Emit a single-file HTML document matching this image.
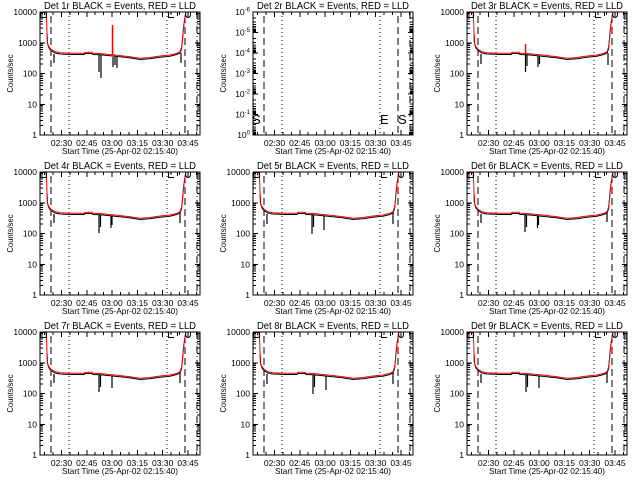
<!DOCTYPE html>
<html><head><meta charset="utf-8"><style>
html,body{margin:0;padding:0;background:#fff;}
svg{display:block;}
text{font-family:"Liberation Sans",sans-serif;fill:#000;}
.t{font-size:10px;text-anchor:middle;}
.yl{font-size:8.5px;text-anchor:end;}
.xl{font-size:8.5px;text-anchor:middle;}
.st{font-size:8.5px;text-anchor:middle;}
.cs{font-size:8.5px;text-anchor:middle;}
.ln{fill:none;stroke:#000;stroke-width:1;shape-rendering:crispEdges;}
.dip{fill:none;stroke:#000;stroke-width:1.2;}
.mk{fill:none;stroke:#000;stroke-width:1;}
</style></head><body>
<svg width="640" height="480" viewBox="0 0 640 480" xmlns="http://www.w3.org/2000/svg">
<rect width="640" height="480" fill="#fff"/>
<defs>
<clipPath id="cp"><rect x="0" y="0" width="160" height="123"/></clipPath>
<path id="ytL" class="ln" d="M0,30.75h5M0,61.5h5M0,92.25h5M0,113.74h3M0,108.33h3M0,104.49h3M0,101.51h3M0,99.07h3M0,97.02h3M0,95.23h3M0,93.66h3M0,82.99h3M0,77.58h3M0,73.74h3M0,70.76h3M0,68.32h3M0,66.27h3M0,64.48h3M0,62.91h3M0,52.24h3M0,46.83h3M0,42.99h3M0,40.01h3M0,37.57h3M0,35.52h3M0,33.73h3M0,32.16h3M0,21.49h3M0,16.08h3M0,12.24h3M0,9.26h3M0,6.82h3M0,4.77h3M0,2.98h3M0,1.41h3"/>
<path id="ytL6" class="ln" d="M0,20.5h5M0,41h5M0,61.5h5M0,82h5M0,102.5h5M0,6.17h3M0,9.78h3M0,12.34h3M0,14.33h3M0,15.95h3M0,17.32h3M0,18.51h3M0,19.56h3M0,26.67h3M0,30.28h3M0,32.84h3M0,34.83h3M0,36.45h3M0,37.82h3M0,39.01h3M0,40.06h3M0,47.17h3M0,50.78h3M0,53.34h3M0,55.33h3M0,56.95h3M0,58.32h3M0,59.51h3M0,60.56h3M0,67.67h3M0,71.28h3M0,73.84h3M0,75.83h3M0,77.45h3M0,78.82h3M0,80.01h3M0,81.06h3M0,88.17h3M0,91.78h3M0,94.34h3M0,96.33h3M0,97.95h3M0,99.32h3M0,100.51h3M0,101.56h3M0,108.67h3M0,112.28h3M0,114.84h3M0,116.83h3M0,118.45h3M0,119.82h3M0,121.01h3M0,122.06h3"/>
<path id="xtB" class="ln" d="M21.5,123v-5M46.8,123v-5M72.1,123v-5M97.4,123v-5M122.7,123v-5M148,123v-5M4.63,123v-3M13.07,123v-3M29.93,123v-3M38.37,123v-3M55.23,123v-3M63.67,123v-3M80.53,123v-3M88.97,123v-3M105.83,123v-3M114.27,123v-3M131.13,123v-3M139.57,123v-3M156.43,123v-3"/>
<g id="frame4">
<rect class="ln" x="0" y="0" width="160" height="123"/>
<use href="#ytL"/><use href="#ytL" transform="translate(160,0) scale(-1,1)"/>
<use href="#xtB"/><use href="#xtB" transform="translate(0,123) scale(1,-1)"/>
</g>
<g id="frame6">
<rect class="ln" x="0" y="0" width="160" height="123"/>
<use href="#ytL6"/><use href="#ytL6" transform="translate(160,0) scale(-1,1)"/>
<use href="#xtB"/><use href="#xtB" transform="translate(0,123) scale(1,-1)"/>
</g>
<g id="vl" class="ln">
<path d="M11,4V123" stroke-dasharray="7,4"/>
<path d="M29,0V123" stroke-dasharray="1,3"/>
<path d="M127,0V123" stroke-dasharray="1,3"/>
<path d="M145,4V123" stroke-dasharray="7,4"/>
<path d="M157,0V123" stroke-dasharray="7,3,1,3"/>
</g>
<polyline id="red" fill="none" stroke="#f00" stroke-width="1" points="5,-10 6,0 6.7,11 7.3,31 9,34.7 11,37.3 15,39.7 20,40.7 33,41.3 44,41.3 45,40.3 52,40.3 53,41.3 60,41.5 75,43 90,44.7 100,46.3 110,45.5 120,44 130,43 136.7,41.3 140,39.7 141.7,34.7 142.7,24.7 144,11.3 145.7,1.3 147,-10"/>
<polyline id="blk" fill="none" stroke="#000" stroke-width="1" points="7,20 7.6,32 9,36 11,38.5 15,41 20,42 33,42.5 44,42.5 45,41.5 52,41.5 53,42.5 60,42.7 75,44.2 90,45.9 100,47.5 110,46.7 120,45.2 130,44.2 136.7,42.5 140,41 141.5,37 142.5,27 143.8,13 145.5,2 147,-10"/>
<g id="mk4" class="mk">
<rect x="0.5" y="0.5" width="6" height="5"/>
<path d="M128.5,0.5V5.5H134M137.5,0.5V4"/>
<path d="M145.5,1.5Q145.5,5.5 148,5.5Q150.5,5.5 150.5,2V0"/>
</g>
</defs>

<!-- Panel 1 -->
<g transform="translate(40,12)">
<use href="#vl"/>
<g clip-path="url(#cp)"><use href="#blk"/><path class="dip" d="M14,42V51M59,43V60M61,43V66M73,45V55M75,45V53M77,45V56M141,41V51"/><use href="#red"/><path d="M72.5,43V13" stroke="#f00" stroke-width="1.5"/></g>
<use href="#frame4"/><use href="#mk4"/>
<text class="t" x="80" y="-3" textLength="152" lengthAdjust="spacingAndGlyphs">Det 1r BLACK = Events, RED = LLD</text>
<text class="yl" x="-3" y="3">10000</text><text class="yl" x="-3" y="33.75">1000</text><text class="yl" x="-3" y="64.5">100</text><text class="yl" x="-3" y="95.25">10</text><text class="yl" x="-3" y="126">1</text>
<text class="xl" x="21.5" y="134">02:30</text><text class="xl" x="46.8" y="134">02:45</text><text class="xl" x="72.1" y="134">03:00</text><text class="xl" x="97.4" y="134">03:15</text><text class="xl" x="122.7" y="134">03:30</text><text class="xl" x="148" y="134">03:45</text>
<text class="st" x="80" y="142" textLength="116" lengthAdjust="spacingAndGlyphs">Start Time (25-Apr-02 02:15:40)</text>
<text class="cs" transform="translate(-27,61.5) rotate(-90)" textLength="38" lengthAdjust="spacingAndGlyphs">Counts/sec</text>
</g>

<!-- Panel 2 -->
<g transform="translate(253,12)">
<use href="#vl"/>
<use href="#frame6"/>
<text x="-1" y="112" style="font-size:13px">S</text>
<text x="127" y="112" style="font-size:13px">E</text>
<text x="145" y="112" style="font-size:13px">S</text>
<text class="t" x="80" y="-3" textLength="152" lengthAdjust="spacingAndGlyphs">Det 2r BLACK = Events, RED = LLD</text>
<text class="yl" x="-3" y="3">10<tspan dy="-3.5" font-size="6">-6</tspan></text>
<text class="yl" x="-3" y="23.5">10<tspan dy="-3.5" font-size="6">-5</tspan></text>
<text class="yl" x="-3" y="44">10<tspan dy="-3.5" font-size="6">-4</tspan></text>
<text class="yl" x="-3" y="64.5">10<tspan dy="-3.5" font-size="6">-3</tspan></text>
<text class="yl" x="-3" y="85">10<tspan dy="-3.5" font-size="6">-2</tspan></text>
<text class="yl" x="-3" y="105.5">10<tspan dy="-3.5" font-size="6">-1</tspan></text>
<text class="yl" x="-3" y="126">10<tspan dy="-3.5" font-size="6">0</tspan></text>
<text class="xl" x="21.5" y="134">02:30</text><text class="xl" x="46.8" y="134">02:45</text><text class="xl" x="72.1" y="134">03:00</text><text class="xl" x="97.4" y="134">03:15</text><text class="xl" x="122.7" y="134">03:30</text><text class="xl" x="148" y="134">03:45</text>
<text class="st" x="80" y="142" textLength="116" lengthAdjust="spacingAndGlyphs">Start Time (25-Apr-02 02:15:40)</text>
<text class="cs" transform="translate(-27,61.5) rotate(-90)" textLength="38" lengthAdjust="spacingAndGlyphs">Counts/sec</text>
</g>

<!-- Panel 3 -->
<g transform="translate(467,12)">
<use href="#vl"/>
<g clip-path="url(#cp)"><use href="#blk"/><path class="dip" d="M14,42V52M58.5,43V60M60,43V54M71,44V55M72.5,44V52M141,41V53"/><use href="#red"/><path d="M58.5,42V32" stroke="#f00" stroke-width="1.5"/></g>
<use href="#frame4"/><use href="#mk4"/>
<text class="t" x="80" y="-3" textLength="152" lengthAdjust="spacingAndGlyphs">Det 3r BLACK = Events, RED = LLD</text>
<text class="yl" x="-3" y="3">10000</text><text class="yl" x="-3" y="33.75">1000</text><text class="yl" x="-3" y="64.5">100</text><text class="yl" x="-3" y="95.25">10</text><text class="yl" x="-3" y="126">1</text>
<text class="xl" x="21.5" y="134">02:30</text><text class="xl" x="46.8" y="134">02:45</text><text class="xl" x="72.1" y="134">03:00</text><text class="xl" x="97.4" y="134">03:15</text><text class="xl" x="122.7" y="134">03:30</text><text class="xl" x="148" y="134">03:45</text>
<text class="st" x="80" y="142" textLength="116" lengthAdjust="spacingAndGlyphs">Start Time (25-Apr-02 02:15:40)</text>
<text class="cs" transform="translate(-27,61.5) rotate(-90)" textLength="38" lengthAdjust="spacingAndGlyphs">Counts/sec</text>
</g>

<!-- Panel 4 -->
<g transform="translate(40,172)">
<use href="#vl"/>
<g clip-path="url(#cp)"><use href="#blk"/><path class="dip" d="M14,42V51M59,43V61M60.5,43V55M71,44V56M72,44V53M140,41V51"/><use href="#red"/></g>
<use href="#frame4"/><use href="#mk4"/>
<text class="t" x="80" y="-3" textLength="152" lengthAdjust="spacingAndGlyphs">Det 4r BLACK = Events, RED = LLD</text>
<text class="yl" x="-3" y="3">10000</text><text class="yl" x="-3" y="33.75">1000</text><text class="yl" x="-3" y="64.5">100</text><text class="yl" x="-3" y="95.25">10</text><text class="yl" x="-3" y="126">1</text>
<text class="xl" x="21.5" y="134">02:30</text><text class="xl" x="46.8" y="134">02:45</text><text class="xl" x="72.1" y="134">03:00</text><text class="xl" x="97.4" y="134">03:15</text><text class="xl" x="122.7" y="134">03:30</text><text class="xl" x="148" y="134">03:45</text>
<text class="st" x="80" y="142" textLength="116" lengthAdjust="spacingAndGlyphs">Start Time (25-Apr-02 02:15:40)</text>
<text class="cs" transform="translate(-27,61.5) rotate(-90)" textLength="38" lengthAdjust="spacingAndGlyphs">Counts/sec</text>
</g>

<!-- Panel 5 -->
<g transform="translate(253,172)">
<use href="#vl"/>
<g clip-path="url(#cp)"><use href="#blk"/><path class="dip" d="M14,42V52M59,43V62M60.5,43V55M71,44V58M140,41V52"/><use href="#red"/></g>
<use href="#frame4"/><use href="#mk4"/>
<text class="t" x="80" y="-3" textLength="152" lengthAdjust="spacingAndGlyphs">Det 5r BLACK = Events, RED = LLD</text>
<text class="yl" x="-3" y="3">10000</text><text class="yl" x="-3" y="33.75">1000</text><text class="yl" x="-3" y="64.5">100</text><text class="yl" x="-3" y="95.25">10</text><text class="yl" x="-3" y="126">1</text>
<text class="xl" x="21.5" y="134">02:30</text><text class="xl" x="46.8" y="134">02:45</text><text class="xl" x="72.1" y="134">03:00</text><text class="xl" x="97.4" y="134">03:15</text><text class="xl" x="122.7" y="134">03:30</text><text class="xl" x="148" y="134">03:45</text>
<text class="st" x="80" y="142" textLength="116" lengthAdjust="spacingAndGlyphs">Start Time (25-Apr-02 02:15:40)</text>
<text class="cs" transform="translate(-27,61.5) rotate(-90)" textLength="38" lengthAdjust="spacingAndGlyphs">Counts/sec</text>
</g>

<!-- Panel 6 -->
<g transform="translate(467,172)">
<use href="#vl"/>
<g clip-path="url(#cp)"><use href="#blk"/><path class="dip" d="M14,42V51M58,43V60M59.5,43V55M70.5,44V56M71.5,44V53M140,41V50"/><use href="#red"/></g>
<use href="#frame4"/><use href="#mk4"/>
<text class="t" x="80" y="-3" textLength="152" lengthAdjust="spacingAndGlyphs">Det 6r BLACK = Events, RED = LLD</text>
<text class="yl" x="-3" y="3">10000</text><text class="yl" x="-3" y="33.75">1000</text><text class="yl" x="-3" y="64.5">100</text><text class="yl" x="-3" y="95.25">10</text><text class="yl" x="-3" y="126">1</text>
<text class="xl" x="21.5" y="134">02:30</text><text class="xl" x="46.8" y="134">02:45</text><text class="xl" x="72.1" y="134">03:00</text><text class="xl" x="97.4" y="134">03:15</text><text class="xl" x="122.7" y="134">03:30</text><text class="xl" x="148" y="134">03:45</text>
<text class="st" x="80" y="142" textLength="116" lengthAdjust="spacingAndGlyphs">Start Time (25-Apr-02 02:15:40)</text>
<text class="cs" transform="translate(-27,61.5) rotate(-90)" textLength="38" lengthAdjust="spacingAndGlyphs">Counts/sec</text>
</g>

<!-- Panel 7 -->
<g transform="translate(40,332)">
<use href="#vl"/>
<g clip-path="url(#cp)"><use href="#blk"/><path class="dip" d="M14,42V51M59,43V60M60.5,43V55M72,44V56M140,41V51"/><use href="#red"/></g>
<use href="#frame4"/><use href="#mk4"/>
<text class="t" x="80" y="-3" textLength="152" lengthAdjust="spacingAndGlyphs">Det 7r BLACK = Events, RED = LLD</text>
<text class="yl" x="-3" y="3">10000</text><text class="yl" x="-3" y="33.75">1000</text><text class="yl" x="-3" y="64.5">100</text><text class="yl" x="-3" y="95.25">10</text><text class="yl" x="-3" y="126">1</text>
<text class="xl" x="21.5" y="134">02:30</text><text class="xl" x="46.8" y="134">02:45</text><text class="xl" x="72.1" y="134">03:00</text><text class="xl" x="97.4" y="134">03:15</text><text class="xl" x="122.7" y="134">03:30</text><text class="xl" x="148" y="134">03:45</text>
<text class="st" x="80" y="142" textLength="116" lengthAdjust="spacingAndGlyphs">Start Time (25-Apr-02 02:15:40)</text>
<text class="cs" transform="translate(-27,61.5) rotate(-90)" textLength="38" lengthAdjust="spacingAndGlyphs">Counts/sec</text>
</g>

<!-- Panel 8 -->
<g transform="translate(253,332)">
<use href="#vl"/>
<g clip-path="url(#cp)"><use href="#blk"/><path class="dip" d="M14,42V52M60,43V62M61.5,43V55M73,44V58M140,41V52"/><use href="#red"/></g>
<use href="#frame4"/><use href="#mk4"/>
<text class="t" x="80" y="-3" textLength="152" lengthAdjust="spacingAndGlyphs">Det 8r BLACK = Events, RED = LLD</text>
<text class="yl" x="-3" y="3">10000</text><text class="yl" x="-3" y="33.75">1000</text><text class="yl" x="-3" y="64.5">100</text><text class="yl" x="-3" y="95.25">10</text><text class="yl" x="-3" y="126">1</text>
<text class="xl" x="21.5" y="134">02:30</text><text class="xl" x="46.8" y="134">02:45</text><text class="xl" x="72.1" y="134">03:00</text><text class="xl" x="97.4" y="134">03:15</text><text class="xl" x="122.7" y="134">03:30</text><text class="xl" x="148" y="134">03:45</text>
<text class="st" x="80" y="142" textLength="116" lengthAdjust="spacingAndGlyphs">Start Time (25-Apr-02 02:15:40)</text>
<text class="cs" transform="translate(-27,61.5) rotate(-90)" textLength="38" lengthAdjust="spacingAndGlyphs">Counts/sec</text>
</g>

<!-- Panel 9 -->
<g transform="translate(467,332)">
<use href="#vl"/>
<g clip-path="url(#cp)"><use href="#blk"/><path class="dip" d="M14,42V51M59,43V60M60.5,43V55M72,44V56M140,41V51"/><use href="#red"/></g>
<use href="#frame4"/><use href="#mk4"/>
<text class="t" x="80" y="-3" textLength="152" lengthAdjust="spacingAndGlyphs">Det 9r BLACK = Events, RED = LLD</text>
<text class="yl" x="-3" y="3">10000</text><text class="yl" x="-3" y="33.75">1000</text><text class="yl" x="-3" y="64.5">100</text><text class="yl" x="-3" y="95.25">10</text><text class="yl" x="-3" y="126">1</text>
<text class="xl" x="21.5" y="134">02:30</text><text class="xl" x="46.8" y="134">02:45</text><text class="xl" x="72.1" y="134">03:00</text><text class="xl" x="97.4" y="134">03:15</text><text class="xl" x="122.7" y="134">03:30</text><text class="xl" x="148" y="134">03:45</text>
<text class="st" x="80" y="142" textLength="116" lengthAdjust="spacingAndGlyphs">Start Time (25-Apr-02 02:15:40)</text>
<text class="cs" transform="translate(-27,61.5) rotate(-90)" textLength="38" lengthAdjust="spacingAndGlyphs">Counts/sec</text>
</g>
</svg>
</body></html>
